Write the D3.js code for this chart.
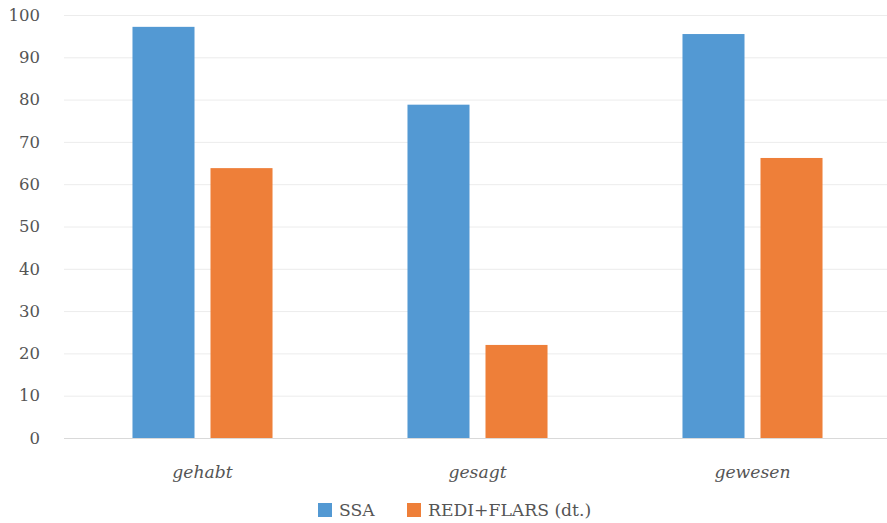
<!DOCTYPE html>
<html><head><meta charset="utf-8">
<script src="https://cdn.jsdelivr.net/npm/d3@7"></script>
<style>body{margin:0;background:#fff}svg{display:block}</style>
</head><body><svg id="c" width="887" height="523"></svg>
<script>
const categories = ["gehabt", "gesagt", "gewesen"];
const seriesNames = ["SSA", "REDI+FLARS (dt.)"];
const ssaValues = [97.2, 78.8, 95.5];
const rediValues = [63.8, 22.0, 66.2];
const yTicks = [0, 10, 20, 30, 40, 50, 60, 70, 80, 90, 100];
const colors = ["#5399D3", "#EE7F39"];

const svg = d3.select("#c");
const font = "'DejaVu Serif', serif";
const y = d3.scaleLinear().domain([0, 100]).range([438, 15]);
const x0 = d3.scaleBand().domain(categories).range([65, 890]).paddingInner(0).paddingOuter(0);
const x1 = d3.scaleBand().domain(seriesNames).range([0, x0.bandwidth()]).paddingInner(0.205).paddingOuter(0.865);

// gridlines
const grid = svg.append("g").attr("transform", "translate(64,0)")
  .call(d3.axisLeft(y).tickValues(yTicks).tickSize(-(887 - 64)).tickFormat(""));
grid.select(".domain").remove();
grid.selectAll("line").attr("stroke", d => d === 0 ? "#d9d9d9" : "#ececec").attr("stroke-width", 1);

// y labels
const yl = svg.append("g").attr("transform", "translate(40,0)")
  .call(d3.axisLeft(y).tickValues(yTicks).tickSize(0).tickPadding(0));
yl.select(".domain").remove();
yl.selectAll("text").attr("font-family", font).attr("font-size", 16.5).attr("fill", "#555");

const data = categories.map((c, i) => ({cat: c, vals: [ssaValues[i], rediValues[i]]}));
const groups = svg.append("g").selectAll("g").data(data).join("g")
  .attr("transform", d => `translate(${x0(d.cat)},0)`);
groups.selectAll("rect").data(d => d.vals.map((v, j) => ({s: seriesNames[j], v, j}))).join("rect")
  .attr("x", d => x1(d.s)).attr("width", x1.bandwidth())
  .attr("y", d => y(d.v)).attr("height", d => y(0) - y(d.v))
  .attr("fill", d => colors[d.j]);

// x labels
const xa = svg.append("g").attr("transform", "translate(0,438)")
  .call(d3.axisBottom(x0).tickSize(0).tickPadding(28));
xa.select(".domain").remove();
xa.selectAll("text").attr("font-family", font).attr("font-style", "italic").attr("font-size", 17.2).attr("fill", "#555");

// legend
const leg = svg.append("g").attr("transform", "translate(0,510)");
const legX = [318, 407];
seriesNames.forEach((s, i) => {
  leg.append("rect").attr("x", legX[i]).attr("y", -7).attr("width", 14).attr("height", 14).attr("fill", colors[i]);
  leg.append("text").attr("x", legX[i] + 21).attr("y", 0).attr("dy", "0.35em")
    .attr("font-family", font).attr("font-size", 17.2).attr("fill", "#555").text(s);
});
</script></body></html>
